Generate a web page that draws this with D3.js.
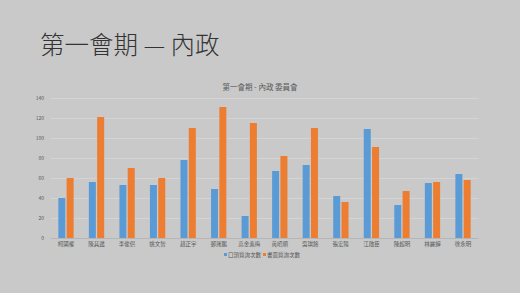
<!DOCTYPE html>
<html>
<head>
<meta charset="utf-8">
<script src="https://cdn.jsdelivr.net/npm/d3@7"></script>
<style>
  body { margin: 0; background: #c9c9c9; }
  svg { display: block; font-family: "Noto Sans CJK TC", "Noto Sans", sans-serif; }
</style>
</head>
<body>
<svg id="chart" width="520" height="293"></svg>
<script>
const members = ["柯國權", "陳其邁", "李俊俋", "姚文智", "趙正宇", "鄭運鵬", "高金素梅",
  "黃昭順", "吳琪銘", "張宏陸", "江啟臣", "陳超明", "林麗蟬", "徐永明"]
const oralCounts = [40, 56, 53, 53, 78, 49, 22, 67, 73, 42, 109, 33, 55, 64]
const writtenCounts = [60, 121, 70, 60, 110, 131, 115, 82, 110, 36, 91, 47, 56, 58]
const seriesNames = ["口頭質詢次數", "書面質詢次數"]
const yTicks = [0, 20, 40, 60, 80, 100, 120, 140]

const colors = ["#5b9bd5", "#ed7d31"]
const svg = d3.select("#chart")

// slide title
svg.append("text")
  .attr("x", 40).attr("y", 54)
  .attr("font-size", 24.5)
  .attr("font-weight", 300)
  .attr("fill", "#333333")
  .text("第一會期 — 內政")

svg.append("text")
  .attr("x", 260).attr("y", 90)
  .attr("text-anchor", "middle")
  .attr("font-size", 7.5)
  .attr("fill", "#595959")
  .text("第一會期 - 內政 委員會")

const margin = { left: 50.7, right: 520 - 478.3, top: 98, bottom: 293 - 238 }

const x = d3.scaleBand()
  .domain(members)
  .range([margin.left, 520 - margin.right])
  .paddingInner(0)
  .paddingOuter(0)

const y = d3.scaleLinear()
  .domain([0, 140])
  .range([238, 98])

// grid
svg.append("g")
  .selectAll("line")
  .data(yTicks)
  .enter().append("line")
  .attr("x1", margin.left).attr("x2", 520 - margin.right)
  .attr("y1", d => y(d) + 0.5).attr("y2", d => y(d) + 0.5)
  .attr("stroke", d => d === 0 ? "#b5b5b5" : "#d4d4d4")
  .attr("stroke-width", 1)

// y labels
svg.append("g")
  .selectAll("text")
  .data(yTicks)
  .enter().append("text")
  .attr("x", 44)
  .attr("y", d => y(d) + 2)
  .attr("text-anchor", "end")
  .attr("font-size", 5)
  .attr("fill", "#595959")
  .text(d => d)

const barW = 7
const gap = 1.3
const series = [oralCounts, writtenCounts]

series.forEach((vals, si) => {
  svg.append("g")
    .selectAll("rect")
    .data(vals)
    .enter().append("rect")
    .attr("x", (d, i) => x(members[i]) + x.bandwidth() / 2 + (si === 0 ? -barW - gap / 2 : gap / 2))
    .attr("y", d => y(d))
    .attr("width", barW)
    .attr("height", d => y(0) - y(d))
    .attr("fill", colors[si])
})

// x labels
svg.append("g")
  .selectAll("text")
  .data(members)
  .enter().append("text")
  .attr("x", d => x(d) + x.bandwidth() / 2)
  .attr("y", 246)
  .attr("text-anchor", "middle")
  .attr("font-size", 5.5)
  .attr("fill", "#595959")
  .text(d => d)

// legend
const legend = svg.append("g")
const legendX = [224, 263]
seriesNames.forEach((name, i) => {
  legend.append("rect")
    .attr("x", legendX[i]).attr("y", 253)
    .attr("width", 3).attr("height", 3)
    .attr("fill", colors[i])
  legend.append("text")
    .attr("x", legendX[i] + 4).attr("y", 256.5)
    .attr("font-size", 5.5)
    .attr("fill", "#595959")
    .text(name)
})
</script>
</body>
</html>
